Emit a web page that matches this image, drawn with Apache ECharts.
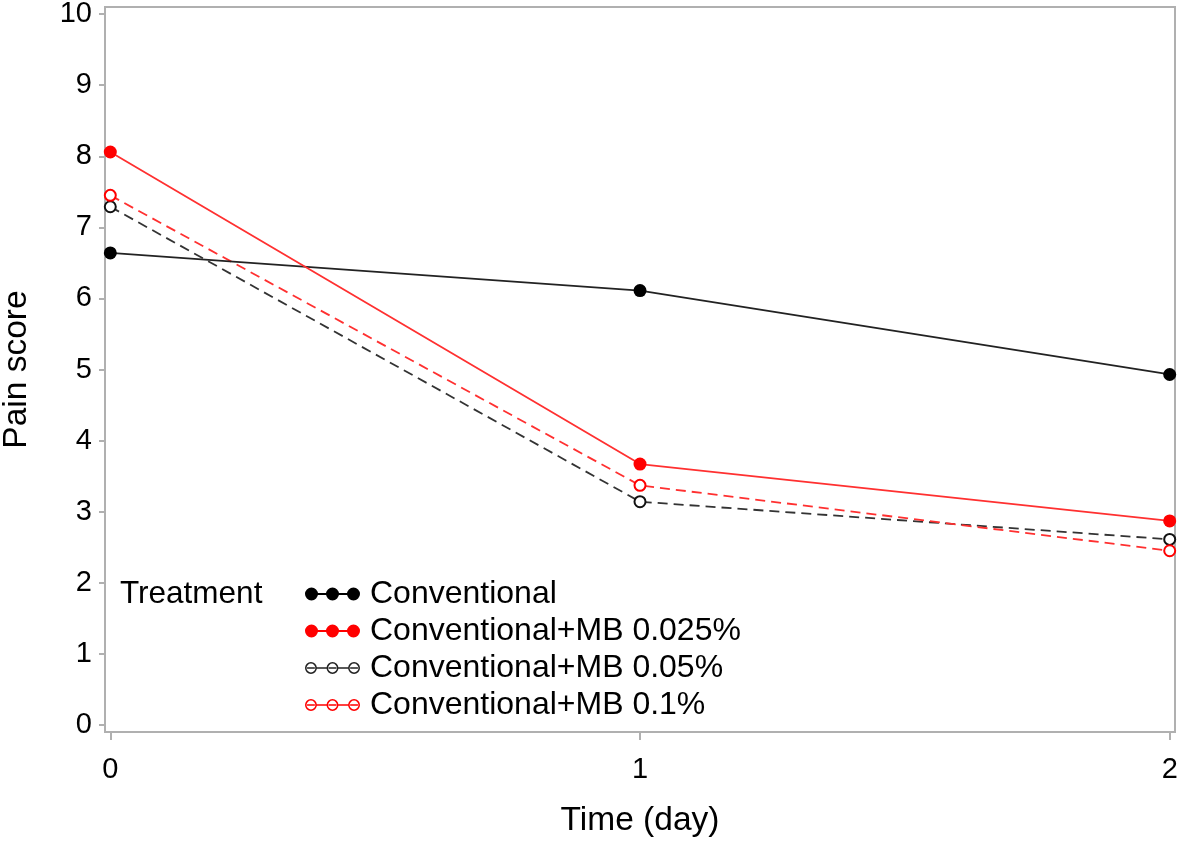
<!DOCTYPE html>
<html>
<head>
<meta charset="utf-8">
<script src="https://cdn.jsdelivr.net/npm/echarts@6/dist/echarts.min.js"></script>
<style>html,body{margin:0;padding:0;background:#fff}#c{width:1180px;height:842px}</style>
</head>
<body>
<div id="c"></div>
<script>
var days = [0, 1, 2];
var seriesNames = ['Conventional', 'Conventional+MB 0.025%', 'Conventional+MB 0.05%', 'Conventional+MB 0.1%'];
var conventional = [6.64, 6.11, 4.93];
var mb0025 = [8.06, 3.67, 2.87];
var mb005 = [7.29, 3.14, 2.61];
var mb01 = [7.45, 3.37, 2.45];
var yTicks = [0, 1, 2, 3, 4, 5, 6, 7, 8, 9, 10];
var xTicks = [0, 1, 2];

function pairs(vals) { return days.map(function (d, i) { return [d, vals[i]]; }); }

function circ(cx, cy, r, sweep) {
  return 'M' + (cx - r) + ',' + cy + 'a' + r + ',' + r + ' 0 1,' + sweep + ' ' + (2 * r) + ',0a' + r + ',' + r + ' 0 1,' + sweep + ' ' + (-2 * r) + ',0Z';
}
function rect(x1, x2, y1, y2) { return 'M' + x1 + ',' + y1 + 'L' + x2 + ',' + y1 + 'L' + x2 + ',' + y2 + 'L' + x1 + ',' + y2 + 'Z'; }
var cxs = [6.5, 27.5, 48.5];
var filledIcon = 'path://' + cxs.map(function (c) { return circ(c, 6.5, 6.5, 1); }).join('') + rect(12.5, 21.5, 5.6, 7.4) + rect(33.5, 42.5, 5.6, 7.4);
var openIcon = 'path://' + cxs.map(function (c) { return circ(c, 6.5, 5.8, 1) + circ(c, 6.5, 4.3, 0) + rect(c - 3.8, c + 3.8, 5.8, 7.2); }).join('') + rect(12, 22, 5.8, 7.2) + rect(33, 43, 5.8, 7.2);

var FONT = 'Liberation Sans, Arial, sans-serif';
var BLACK = '#000000', RED = '#ff0000';
var chart = echarts.init(document.getElementById('c'));
chart.setOption({
  animation: false,
  backgroundColor: '#ffffff',
  textStyle: { fontFamily: FONT },
  grid: { left: 105, right: 5, top: 7, bottom: 110, outerBoundsMode: 'none', containLabel: false, show: true, borderColor: '#b0b0b0', borderWidth: 2, backgroundColor: 'transparent' },
  title: { text: 'Treatment', left: 120, top: 578, padding: 0, textStyle: { fontSize: 31.5, fontWeight: 'normal', color: '#000', fontFamily: FONT } },
  legend: {
    orient: 'vertical', left: 305, top: 578, padding: 0,
    itemWidth: 55, itemHeight: 13, itemGap: 5,
    textStyle: { fontSize: 32, color: '#000', fontFamily: FONT, lineHeight: 31, padding: [0, 0, 0, 5] },
    data: [
      { name: seriesNames[0], icon: filledIcon, itemStyle: { color: BLACK, borderWidth: 0 } },
      { name: seriesNames[1], icon: filledIcon, itemStyle: { color: RED, borderWidth: 0 } },
      { name: seriesNames[2], icon: openIcon, itemStyle: { color: '#222', borderWidth: 0 } },
      { name: seriesNames[3], icon: openIcon, itemStyle: { color: RED, borderWidth: 0 } }
    ]
  },
  xAxis: {
    type: 'value', min: -0.01, max: 2.01,
    name: 'Time (day)', nameLocation: 'middle', nameGap: 72,
    nameTextStyle: { fontSize: 33.5, color: '#000', fontFamily: FONT },
    axisLine: { show: true, onZero: false, lineStyle: { color: '#b0b0b0', width: 2 } },
    axisTick: { show: true, length: 8, customValues: xTicks, lineStyle: { color: '#b0b0b0', width: 2 } },
    axisLabel: { customValues: xTicks, fontSize: 29, color: '#000', margin: 23, fontFamily: FONT },
    splitLine: { show: false }
  },
  yAxis: {
    type: 'value', min: -0.1, max: 10.1,
    name: 'Pain score', nameLocation: 'middle', nameGap: 71, nameRotate: 90,
    nameTextStyle: { fontSize: 33.5, color: '#000', fontFamily: FONT },
    axisLine: { show: true, onZero: false, lineStyle: { color: '#b0b0b0', width: 2 } },
    axisTick: { show: true, length: 6, customValues: yTicks, lineStyle: { color: '#b0b0b0', width: 2 } },
    axisLabel: { customValues: yTicks, fontSize: 29, color: '#000', margin: 13, fontFamily: FONT },
    splitLine: { show: false }
  },
  series: [
    { name: seriesNames[0], type: 'line', data: pairs(conventional), symbol: 'circle', symbolSize: 13,
      itemStyle: { color: BLACK }, lineStyle: { color: '#222', width: 1.8 }, z: 3 },
    { name: seriesNames[1], type: 'line', data: pairs(mb0025), symbol: 'circle', symbolSize: 13,
      itemStyle: { color: RED }, lineStyle: { color: '#ff3030', width: 1.8 }, z: 3 },
    { name: seriesNames[2], type: 'line', data: pairs(mb005), symbol: 'emptyCircle', symbolSize: 11,
      itemStyle: { color: '#111', borderColor: '#111', borderWidth: 2.5 }, lineStyle: { color: '#333', width: 1.8, type: [10, 6] }, z: 2 },
    { name: seriesNames[3], type: 'line', data: pairs(mb01), symbol: 'emptyCircle', symbolSize: 11,
      itemStyle: { color: RED, borderColor: RED, borderWidth: 2.5 }, lineStyle: { color: '#ff3030', width: 1.8, type: [10, 6] }, z: 2 }
  ]
});
</script>
</body>
</html>
